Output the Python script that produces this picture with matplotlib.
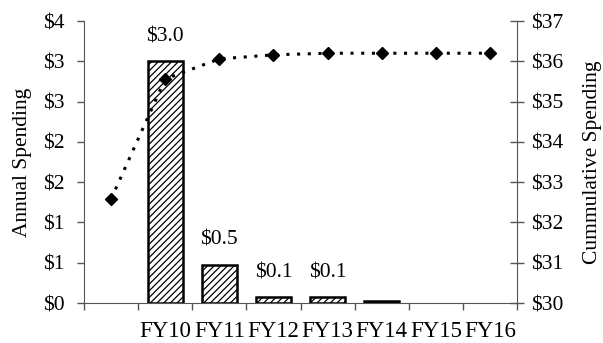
import matplotlib
matplotlib.use("Agg")
import matplotlib.pyplot as plt
import numpy as np

categories = ["", "FY10", "FY11", "FY12", "FY13", "FY14", "FY15", "FY16"]
annual = [0.0, 3.0, 0.47, 0.07, 0.07, 0.02, 0.0, 0.0]
annual_labels = ["", "$3.0", "$0.5", "$0.1", "$0.1", "", "", ""]
cumulative = [32.58, 35.56, 36.06, 36.16, 36.2, 36.2, 36.2, 36.2]
left_ticks = [0, 0.5, 1.0, 1.5, 2.0, 2.5, 3.0, 3.5]
left_tick_labels = ["$0", "$1", "$1", "$2", "$2", "$3", "$3", "$4"]
right_ticks = [30, 31, 32, 33, 34, 35, 36, 37]
right_tick_labels = ["$30", "$31", "$32", "$33", "$34", "$35", "$36", "$37"]

plt.rcParams['font.family'] = ['Liberation Serif', 'DejaVu Serif']
plt.rcParams['hatch.linewidth'] = 0.9
plt.rcParams['hatch.color'] = '#3a3a3a'
FS = 15.5

fig = plt.figure(figsize=(6.03, 3.43), dpi=100)
ax = fig.add_axes([84/603, 1 - 303/343, (517-84)/603, (303-21)/343])
x = np.arange(len(categories))

bx = [xi for xi, v in zip(x, annual) if v > 0]
bv = [v for v in annual if v > 0]
ax.bar(bx, bv, width=0.65, color='white', edgecolor='black',
       linewidth=1.8, hatch='/////', zorder=2)
for xi, v, lab in zip(x, annual, annual_labels):
    if lab:
        ax.annotate(lab, (xi, v), xytext=(0, 11), textcoords='offset points',
                    ha='center', va='bottom', fontsize=FS)

ax.set_xlim(-0.5, len(categories) - 0.5)
ax.set_ylim(0, 3.5)
ax.set_yticks(left_ticks)
ax.set_yticklabels(left_tick_labels, fontsize=FS)
ax.set_xticks(x)
ax.set_xticklabels(categories, fontsize=16.5)
ax.set_xticks(np.arange(len(categories) + 1) - 0.5, minor=True)
ax.tick_params(axis='x', which='major', length=0, pad=13)
ax.tick_params(axis='x', which='minor', length=5, width=1, color='#555555')
ax.tick_params(axis='y', length=5, width=1, color='#555555', pad=9)
ax.set_ylabel("Annual Spending", fontsize=FS, labelpad=8)
for s in ['top', 'right']:
    ax.spines[s].set_visible(False)
ax.spines['left'].set_color('#555555')
ax.spines['bottom'].set_color('#555555')

ax2 = ax.twinx()
ax2.plot(x, cumulative, linestyle=(0, (1, 2.5)), color='black', linewidth=2.2,
         marker='D', markersize=6, markerfacecolor='black', zorder=3)
ax2.set_ylim(30, 37)
ax2.set_yticks(right_ticks)
ax2.set_yticklabels(right_tick_labels, fontsize=FS)
ax2.tick_params(axis='y', direction='inout', length=10, width=1, color='#555555', pad=5)
ax2.set_ylabel("Cummulative Spending", fontsize=FS, labelpad=14)
for s in ['top', 'left', 'bottom']:
    ax2.spines[s].set_visible(False)
ax2.spines['right'].set_color('#555555')

fig.savefig("out.png", dpi=100)
